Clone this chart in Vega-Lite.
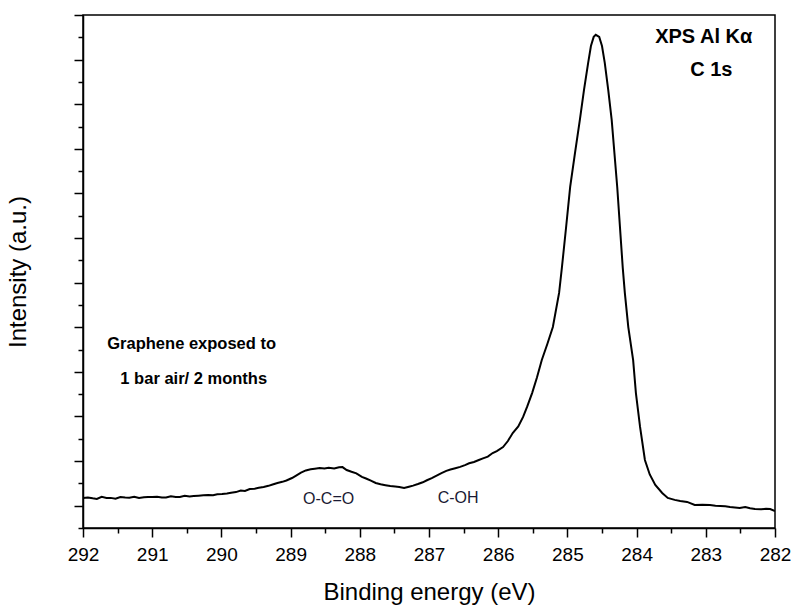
{
  "$schema": "https://vega.github.io/schema/vega-lite/v6.json",
  "width": 692,
  "height": 513,
  "autosize": "none",
  "padding": {"left": 83, "top": 15, "right": 20, "bottom": 78},
  "background": "white",
  "config": {
    "font": "Liberation Sans",
    "view": {"stroke": "black", "strokeWidth": 1.5},
    "axis": {"domainColor": "black", "tickColor": "black", "labelColor": "black", "titleColor": "black", "grid": false, "domainWidth": 1.5, "tickWidth": 1.5}
  },
  "datasets": {
    "spectrum": [
      {"E": 292.00, "I": 1.35}, {"E": 291.93, "I": 1.37}, {"E": 291.86, "I": 1.33}, {"E": 291.80, "I": 1.30},
      {"E": 291.73, "I": 1.40}, {"E": 291.66, "I": 1.35}, {"E": 291.60, "I": 1.35}, {"E": 291.53, "I": 1.31},
      {"E": 291.46, "I": 1.39}, {"E": 291.39, "I": 1.37}, {"E": 291.33, "I": 1.36}, {"E": 291.26, "I": 1.40},
      {"E": 291.19, "I": 1.35}, {"E": 291.12, "I": 1.38}, {"E": 291.06, "I": 1.39}, {"E": 291.00, "I": 1.39},
      {"E": 290.93, "I": 1.40}, {"E": 290.86, "I": 1.37}, {"E": 290.80, "I": 1.37}, {"E": 290.73, "I": 1.42},
      {"E": 290.66, "I": 1.39}, {"E": 290.60, "I": 1.39}, {"E": 290.53, "I": 1.44}, {"E": 290.46, "I": 1.41},
      {"E": 290.40, "I": 1.43}, {"E": 290.33, "I": 1.45}, {"E": 290.26, "I": 1.47}, {"E": 290.19, "I": 1.48},
      {"E": 290.12, "I": 1.47}, {"E": 290.06, "I": 1.51}, {"E": 289.99, "I": 1.52}, {"E": 289.92, "I": 1.55},
      {"E": 289.86, "I": 1.58}, {"E": 289.79, "I": 1.61}, {"E": 289.72, "I": 1.68}, {"E": 289.66, "I": 1.66},
      {"E": 289.59, "I": 1.75}, {"E": 289.52, "I": 1.76}, {"E": 289.46, "I": 1.80}, {"E": 289.39, "I": 1.84},
      {"E": 289.32, "I": 1.89}, {"E": 289.26, "I": 1.95}, {"E": 289.19, "I": 2.02}, {"E": 289.12, "I": 2.07},
      {"E": 289.06, "I": 2.13}, {"E": 288.98, "I": 2.24}, {"E": 288.92, "I": 2.35}, {"E": 288.85, "I": 2.48},
      {"E": 288.78, "I": 2.58}, {"E": 288.71, "I": 2.63}, {"E": 288.65, "I": 2.66}, {"E": 288.58, "I": 2.69},
      {"E": 288.51, "I": 2.67}, {"E": 288.45, "I": 2.70}, {"E": 288.37, "I": 2.67}, {"E": 288.30, "I": 2.72},
      {"E": 288.25, "I": 2.73}, {"E": 288.19, "I": 2.60}, {"E": 288.12, "I": 2.52}, {"E": 288.05, "I": 2.45},
      {"E": 287.97, "I": 2.29}, {"E": 287.91, "I": 2.22}, {"E": 287.84, "I": 2.12}, {"E": 287.77, "I": 2.02},
      {"E": 287.70, "I": 1.96}, {"E": 287.63, "I": 1.92}, {"E": 287.56, "I": 1.88}, {"E": 287.49, "I": 1.86},
      {"E": 287.43, "I": 1.84}, {"E": 287.36, "I": 1.79}, {"E": 287.29, "I": 1.85}, {"E": 287.23, "I": 1.90},
      {"E": 287.16, "I": 1.97}, {"E": 287.09, "I": 2.05}, {"E": 287.03, "I": 2.14}, {"E": 286.96, "I": 2.24},
      {"E": 286.89, "I": 2.35}, {"E": 286.82, "I": 2.46}, {"E": 286.75, "I": 2.56}, {"E": 286.69, "I": 2.62},
      {"E": 286.62, "I": 2.68}, {"E": 286.55, "I": 2.74}, {"E": 286.48, "I": 2.82}, {"E": 286.42, "I": 2.90},
      {"E": 286.35, "I": 2.96}, {"E": 286.28, "I": 3.05}, {"E": 286.22, "I": 3.12}, {"E": 286.15, "I": 3.20},
      {"E": 286.08, "I": 3.36}, {"E": 286.02, "I": 3.45}, {"E": 285.93, "I": 3.63}, {"E": 285.86, "I": 3.90},
      {"E": 285.79, "I": 4.26}, {"E": 285.71, "I": 4.55}, {"E": 285.64, "I": 4.98}, {"E": 285.58, "I": 5.45},
      {"E": 285.51, "I": 6.05}, {"E": 285.44, "I": 6.75}, {"E": 285.37, "I": 7.53}, {"E": 285.29, "I": 8.25},
      {"E": 285.21, "I": 9.01}, {"E": 285.12, "I": 10.54}, {"E": 285.08, "I": 11.66}, {"E": 285.02, "I": 13.45},
      {"E": 284.96, "I": 15.29}, {"E": 284.89, "I": 16.82}, {"E": 284.82, "I": 18.30}, {"E": 284.76, "I": 19.64},
      {"E": 284.70, "I": 20.85}, {"E": 284.66, "I": 21.61}, {"E": 284.62, "I": 22.02}, {"E": 284.59, "I": 22.11},
      {"E": 284.54, "I": 22.02}, {"E": 284.50, "I": 21.61}, {"E": 284.46, "I": 20.85}, {"E": 284.41, "I": 19.64},
      {"E": 284.36, "I": 18.30}, {"E": 284.28, "I": 15.29}, {"E": 284.20, "I": 11.66}, {"E": 284.17, "I": 10.54},
      {"E": 284.12, "I": 9.01}, {"E": 284.05, "I": 7.53}, {"E": 284.01, "I": 6.05}, {"E": 283.95, "I": 4.53},
      {"E": 283.88, "I": 3.05}, {"E": 283.81, "I": 2.40}, {"E": 283.73, "I": 1.93}, {"E": 283.63, "I": 1.57},
      {"E": 283.55, "I": 1.35}, {"E": 283.45, "I": 1.26}, {"E": 283.37, "I": 1.21}, {"E": 283.27, "I": 1.17},
      {"E": 283.16, "I": 1.03}, {"E": 283.05, "I": 1.04}, {"E": 282.94, "I": 1.03}, {"E": 282.86, "I": 1.00},
      {"E": 282.79, "I": 0.99}, {"E": 282.72, "I": 0.97}, {"E": 282.65, "I": 0.94}, {"E": 282.58, "I": 0.92},
      {"E": 282.51, "I": 0.90}, {"E": 282.43, "I": 0.94}, {"E": 282.36, "I": 0.89}, {"E": 282.29, "I": 0.85},
      {"E": 282.20, "I": 0.84}, {"E": 282.13, "I": 0.86}, {"E": 282.07, "I": 0.85}, {"E": 282.00, "I": 0.76}
    ],
    "headers": [
      {"E": 283.03, "I": 22.02, "label": "XPS Al Kα"},
      {"E": 282.92, "I": 20.54, "label": "C 1s"}
    ],
    "notes": [
      {"E": 290.43, "I": 8.25, "label": "Graphene exposed to"},
      {"E": 290.40, "I": 6.68, "label": "1 bar air/ 2 months"}
    ],
    "peaks": [
      {"E": 288.45, "I": 1.30, "label": "O-C=O"},
      {"E": 286.58, "I": 1.35, "label": "C-OH"}
    ]
  },
  "resolve": {"scale": {"x": "independent", "y": "independent"}, "axis": {"x": "independent", "y": "independent"}},
  "layer": [
    {
      "layer": [
        {
          "data": {"name": "spectrum"},
          "mark": {"type": "line", "color": "black", "strokeWidth": 2, "clip": true},
          "encoding": {
            "x": {
              "field": "E", "type": "quantitative",
              "scale": {"domain": [282, 292], "reverse": true, "nice": false, "zero": false},
              "axis": {
                "orient": "bottom",
                "title": "Binding energy (eV)",
                "values": [282, 283, 284, 285, 286, 287, 288, 289, 290, 291, 292],
                "format": "d",
                "tickSize": 9,
                "labelFontSize": 19, "labelPadding": 8, "labelFlush": false, "labelOverlap": false,
                "titleFontSize": 24, "titleFontWeight": "normal", "titlePadding": 16
              }
            },
            "y": {
              "field": "I", "type": "quantitative",
              "scale": {"domain": [0, 23], "nice": false, "zero": false},
              "axis": {
                "orient": "left",
                "title": "Intensity (a.u.)",
                "values": [1, 3, 5, 7, 9, 11, 13, 15, 17, 19, 21, 23],
                "labels": false,
                "tickSize": 9,
                "titleFontSize": 24, "titleFontWeight": "normal", "titlePadding": 43
              }
            }
          }
        },
        {
          "data": {"name": "headers"},
          "mark": {"type": "text", "font": "Liberation Sans", "fontWeight": "bold", "fontSize": 20, "color": "black", "align": "center", "baseline": "middle"},
          "encoding": {
            "x": {"field": "E", "type": "quantitative"},
            "y": {"field": "I", "type": "quantitative"},
            "text": {"field": "label"}
          }
        },
        {
          "data": {"name": "notes"},
          "mark": {"type": "text", "font": "Liberation Sans", "fontWeight": "bold", "fontSize": 16.5, "color": "black", "align": "center", "baseline": "middle"},
          "encoding": {
            "x": {"field": "E", "type": "quantitative"},
            "y": {"field": "I", "type": "quantitative"},
            "text": {"field": "label"}
          }
        },
        {
          "data": {"name": "peaks"},
          "mark": {"type": "text", "font": "Liberation Sans", "fontSize": 16, "color": "#1a1a33", "align": "center", "baseline": "middle"},
          "encoding": {
            "x": {"field": "E", "type": "quantitative"},
            "y": {"field": "I", "type": "quantitative"},
            "text": {"field": "label"}
          }
        }
      ]
    },
    {
      "data": {"name": "spectrum"},
      "mark": {"type": "line", "opacity": 0},
      "encoding": {
        "x": {
          "field": "E", "type": "quantitative",
          "scale": {"domain": [282, 292], "reverse": true, "nice": false, "zero": false},
          "axis": {
            "orient": "bottom", "title": null, "labels": false, "domain": false,
            "values": [282.5, 283.5, 284.5, 285.5, 286.5, 287.5, 288.5, 289.5, 290.5, 291.5],
            "tickSize": 5
          }
        },
        "y": {
          "field": "I", "type": "quantitative",
          "scale": {"domain": [0, 23], "nice": false, "zero": false},
          "axis": {
            "orient": "left", "title": null, "labels": false, "domain": false,
            "values": [0, 2, 4, 6, 8, 10, 12, 14, 16, 18, 20, 22],
            "tickSize": 5
          }
        }
      }
    }
  ]
}
